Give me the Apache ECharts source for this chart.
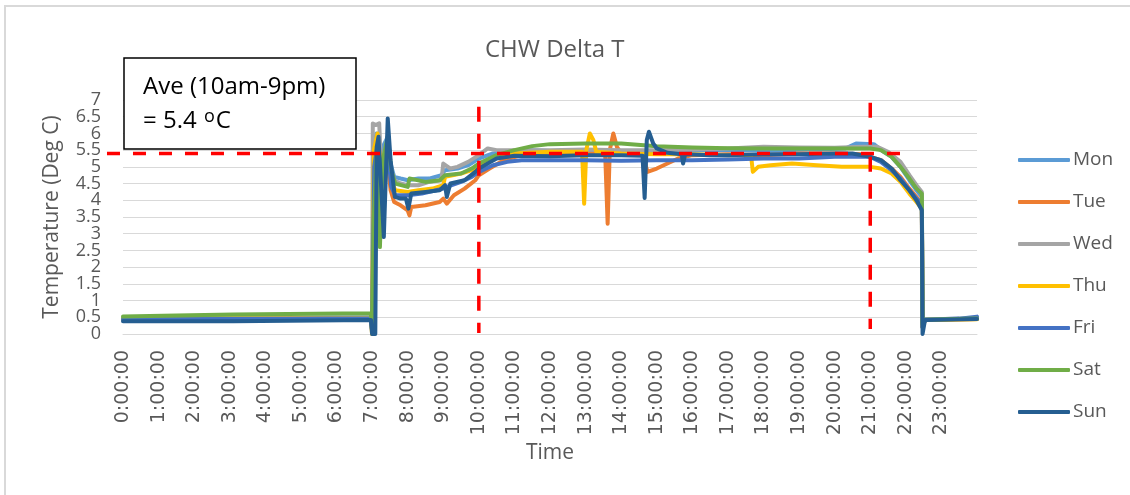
<!DOCTYPE html>
<html>
<head>
<meta charset="utf-8">
<title>CHW Delta T</title>
<script src="https://cdn.jsdelivr.net/npm/echarts@6/dist/echarts.min.js"></script>
<style>
	html, body { margin: 0; padding: 0; background: #fff; }
	#main { width: 1130px; height: 495px; }
</style>
</head>
<body>
<div id="main"></div>
<script>
// day names and Excel default colours
var days = ['Mon', 'Tue', 'Wed', 'Thu', 'Fri', 'Sat', 'Sun'];
var colors = ['#5B9BD5', '#ED7D31', '#A5A5A5', '#FFC000', '#4472C4', '#70AD47', '#255E91'];

// [hour of day, delta T in deg C]
var mon = [[0,0.46],[3.1,0.47],[6.96,0.5],[7.0,0.1],[7.04,5.4],[7.12,6.0],[7.22,4.6],[7.3,5.6],[7.44,5.9],[7.52,5.1],[7.62,4.7],[7.8,4.65],[8.0,4.6],[8.3,4.65],[8.6,4.65],[8.95,4.75],[9.05,4.9],[9.4,4.95],[9.7,5.05],[10.0,5.25],[10.4,5.4],[10.8,5.45],[11.5,5.5],[12.5,5.45],[13.5,5.45],[14.5,5.45],[15.5,5.48],[16.5,5.5],[17.5,5.5],[18.5,5.5],[19.5,5.52],[20.3,5.55],[20.6,5.7],[21.1,5.68],[21.3,5.5],[21.6,5.3],[21.85,5.0],[22.1,4.6],[22.3,4.3],[22.45,4.1],[22.47,0.2],[22.54,0.43],[24,0.46]];
var tue = [[0,0.45],[3.1,0.46],[6.96,0.48],[7.0,0.2],[7.05,5.0],[7.12,5.5],[7.22,4.1],[7.3,4.9],[7.42,5.4],[7.52,4.3],[7.62,3.95],[7.8,3.85],[8.0,3.7],[8.05,3.55],[8.1,3.8],[8.5,3.85],[8.9,3.95],[9.0,4.05],[9.1,3.9],[9.3,4.15],[9.6,4.35],[9.9,4.6],[10.0,4.75],[10.3,4.95],[10.7,5.2],[11.2,5.35],[12.0,5.4],[13.0,5.4],[13.55,5.4],[13.62,3.3],[13.68,5.5],[13.78,6.0],[13.88,5.6],[14.0,5.4],[14.6,5.38],[14.74,4.85],[15.0,4.95],[15.3,5.1],[15.6,5.25],[16.0,5.35],[17.0,5.38],[18.0,5.35],[19.0,5.4],[20.0,5.4],[20.8,5.38],[21.0,5.3],[21.3,5.2],[21.6,4.95],[21.85,4.7],[22.1,4.35],[22.3,4.1],[22.45,3.9],[22.47,0.2],[22.54,0.42],[24,0.45]];
var wed = [[0,0.46],[3.1,0.47],[6.96,0.5],[7.0,0.2],[7.02,6.3],[7.1,6.25],[7.2,6.3],[7.25,5.1],[7.32,5.3],[7.42,5.7],[7.52,5.0],[7.62,4.6],[7.8,4.5],[8.0,4.45],[8.3,4.45],[8.6,4.55],[8.95,4.6],[9.0,5.1],[9.2,4.95],[9.4,5.0],[9.7,5.15],[10.0,5.35],[10.25,5.55],[10.5,5.5],[11.0,5.5],[12.0,5.5],[13.0,5.52],[14.0,5.5],[15.0,5.5],[16.0,5.52],[17.0,5.55],[18.0,5.6],[19.0,5.58],[20.0,5.57],[20.8,5.6],[21.2,5.6],[21.5,5.45],[21.85,5.15],[22.1,4.75],[22.3,4.45],[22.45,4.25],[22.47,0.3],[22.54,0.44],[24,0.46]];
var thu = [[0,0.45],[3.1,0.46],[6.96,0.48],[7.0,0.0],[7.05,5.5],[7.15,6.0],[7.25,5.0],[7.35,5.3],[7.44,5.6],[7.54,4.6],[7.65,4.3],[8.0,4.25],[8.3,4.3],[8.7,4.35],[9.0,4.45],[9.05,4.7],[9.5,4.8],[9.8,4.9],[10.0,5.0],[10.5,5.3],[11.0,5.4],[12.0,5.45],[12.9,5.45],[12.96,3.9],[13.02,5.5],[13.12,6.0],[13.22,5.8],[13.3,5.45],[14.0,5.4],[15.0,5.38],[16.0,5.38],[17.0,5.35],[17.65,5.35],[17.7,4.85],[17.85,5.0],[18.2,5.05],[18.8,5.1],[19.5,5.05],[20.2,5.0],[20.8,5.0],[21.0,5.0],[21.3,4.95],[21.6,4.8],[21.85,4.55],[22.1,4.2],[22.3,3.95],[22.45,3.75],[22.47,0.2],[22.54,0.42],[24,0.44]];
var fri = [[0,0.44],[3.1,0.45],[6.96,0.47],[7.0,0.1],[7.06,5.0],[7.14,5.6],[7.24,4.3],[7.33,5.0],[7.44,5.5],[7.54,4.4],[7.65,4.15],[8.0,4.15],[8.4,4.2],[8.8,4.3],[9.0,4.35],[9.1,4.4],[9.5,4.55],[9.8,4.7],[10.0,4.85],[10.4,5.05],[10.8,5.15],[11.2,5.2],[12.0,5.2],[13.0,5.2],[14.0,5.18],[15.0,5.2],[16.0,5.2],[17.0,5.22],[18.0,5.25],[19.0,5.25],[20.0,5.3],[20.8,5.3],[21.0,5.3],[21.3,5.15],[21.6,4.9],[21.85,4.65],[22.1,4.3],[22.3,4.05],[22.45,3.85],[22.47,0.2],[22.54,0.43],[23.5,0.46],[24,0.52]];
var sat = [[0,0.52],[1.5,0.55],[3.1,0.58],[3.15,0.6],[6.96,0.62],[7.0,0.3],[7.05,3.5],[7.13,5.5],[7.22,2.6],[7.3,5.2],[7.44,5.9],[7.54,4.9],[7.65,4.5],[8.0,4.4],[8.05,4.65],[8.5,4.55],[8.9,4.6],[9.05,4.75],[9.5,4.8],[9.8,4.95],[10.0,5.1],[10.5,5.35],[11.0,5.5],[11.5,5.62],[12.0,5.68],[13.0,5.7],[14.0,5.7],[15.0,5.62],[16.0,5.58],[17.0,5.56],[18.0,5.55],[19.0,5.55],[20.0,5.55],[21.0,5.55],[21.3,5.5],[21.6,5.3],[21.85,5.0],[22.1,4.65],[22.3,4.35],[22.45,4.2],[22.47,0.3],[22.54,0.43],[24,0.46]];
var sun = [[0,0.38],[3.1,0.38],[3.15,0.42],[6.97,0.42],[7.0,0.0],[7.09,0.0],[7.13,5.6],[7.18,5.9],[7.25,4.5],[7.33,2.9],[7.44,6.45],[7.52,5.2],[7.64,4.1],[7.8,4.05],[7.95,4.05],[8.02,3.75],[8.1,4.2],[8.5,4.25],[8.9,4.3],[9.05,4.45],[9.1,4.1],[9.2,4.5],[9.6,4.6],[9.9,4.85],[10.0,4.95],[10.5,5.25],[11.0,5.33],[12.0,5.32],[13.0,5.35],[14.0,5.35],[14.6,5.33],[14.66,4.07],[14.72,5.8],[14.78,6.05],[14.9,5.7],[15.0,5.55],[15.3,5.42],[15.7,5.38],[15.74,5.1],[15.8,5.38],[16.5,5.35],[17.0,5.35],[18.0,5.38],[19.0,5.38],[20.0,5.4],[20.5,5.4],[21.0,5.3],[21.3,5.2],[21.6,4.95],[21.85,4.6],[22.1,4.3],[22.3,4.0],[22.45,3.7],[22.47,0.0],[22.54,0.42],[24,0.45]];

// annotation: average over the 10am-9pm window
var aveValue = 5.4;
var windowStart = 10;
var windowEnd = 21;

var seriesData = [mon, tue, wed, thu, fri, sat, sun];
var gray = '#595959';
var font = '"Open Sans", "Liberation Sans", sans-serif';

var chart = echarts.init(document.getElementById('main'), null, { renderer: 'canvas' });

var series = [];
for (var i = 0; i < days.length; i++) {
	series.push({
		name: days[i],
		type: 'line',
		yAxisIndex: 0,
		data: seriesData[i],
		showSymbol: false,
		animation: false,
		lineStyle: { color: colors[i], width: 4, cap: 'round', join: 'round' },
		itemStyle: { color: colors[i] }
	});
}

var yLabelStyle = { margin: 22, fontFamily: font, fontSize: 18, color: gray };

chart.setOption({
	animation: false,
	backgroundColor: '#fff',
	title: {
		text: 'CHW Delta T',
		left: 480,
		top: 33,
		textStyle: { fontFamily: font, fontSize: 24, fontWeight: 'normal', color: gray }
	},
	legend: {
		data: days,
		orient: 'vertical',
		left: 1013,
		top: 145,
		icon: 'roundRect',
		itemWidth: 52,
		itemHeight: 4,
		itemGap: 22,
		textStyle: { fontFamily: font, fontSize: 19, color: gray, lineHeight: 20, padding: [0, 0, 0, -2] }
	},
	grid: { left: 123, right: 153, top: 100, bottom: 161, containLabel: false },
	xAxis: {
		type: 'value',
		min: 0,
		max: 24,
		interval: 1,
		name: 'Time',
		nameLocation: 'middle',
		nameGap: 109,
		nameTextStyle: { fontFamily: font, fontSize: 21, color: gray },
		axisLine: { show: true, lineStyle: { color: '#d9d9d9', width: 1 } },
		axisTick: { show: false },
		splitLine: { show: false },
		axisLabel: {
			rotate: 90,
			margin: 16,
			fontFamily: '"DejaVu Sans", sans-serif',
			fontSize: 19,
			lineHeight: 14,
			color: gray,
			showMaxLabel: false,
			formatter: function (v) { return v < 24 ? v + ':00:00' : ''; }
		}
	},
	yAxis: [
		{
			// whole numbers plus the gridlines
			type: 'value',
			min: 0,
			max: 7,
			interval: 0.5,
			name: 'Temperature (Deg C)',
			nameLocation: 'middle',
			nameGap: 60,
			nameTextStyle: { fontFamily: font, fontSize: 21, color: gray },
			axisLine: { show: false },
			axisTick: { show: false },
			splitLine: { show: true, lineStyle: { color: '#d9d9d9', width: 1 } },
			axisLabel: Object.assign({}, yLabelStyle, {
				showMinLabel: true,
				showMaxLabel: true,
				formatter: function (v) { return v % 1 === 0 ? String(v) : ''; }
			})
		},
		{
			// the .5 labels, same scale and place, so they can overlap like the original
			type: 'value',
			position: 'left',
			offset: 0,
			min: 0,
			max: 7,
			interval: 0.5,
			axisLine: { show: false },
			axisTick: { show: false },
			splitLine: { show: false },
			axisLabel: Object.assign({}, yLabelStyle, {
				showMinLabel: false,
				showMaxLabel: false,
				formatter: function (v) { return v % 1 !== 0 ? String(v) : ''; }
			})
		}
	],
	series: series
});

// guide lines and annotation box, placed through the axes
function px(x, y) {
	return chart.convertToPixel({ gridIndex: 0 }, [x, y]);
}
var red = '#FF0000';
var hA = px(-0.45, aveValue), hB = px(22.17, aveValue);
var v1a = px(windowStart, 6.8), v1b = px(windowStart, 0.03);
var v2a = px(windowEnd, 6.92), v2b = px(windowEnd, 0.15);

chart.setOption({
	graphic: [
		{
			type: 'rect', z: 1, silent: true,
			shape: { x: 5, y: 6, width: 1140, height: 500 },
			style: { fill: 'none', stroke: '#d9d9d9', lineWidth: 2 }
		},
		{
			type: 'line', z: 100, silent: true,
			shape: { x1: hA[0], y1: hA[1], x2: hB[0], y2: hB[1] },
			style: { stroke: red, lineWidth: 3.5, lineDash: [13, 13] }
		},
		{
			type: 'line', z: 100, silent: true,
			shape: { x1: v1a[0], y1: v1a[1], x2: v1b[0], y2: v1b[1] },
			style: { stroke: red, lineWidth: 3.5, lineDash: [15, 12] }
		},
		{
			type: 'line', z: 100, silent: true,
			shape: { x1: v2a[0], y1: v2a[1], x2: v2b[0], y2: v2b[1] },
			style: { stroke: red, lineWidth: 3.5, lineDash: [15, 12] }
		},
		{
			type: 'rect', z: 110, silent: true,
			shape: { x: 124, y: 58, width: 232, height: 91 },
			style: { fill: '#fff', stroke: '#000', lineWidth: 1.5 }
		},
		{
			type: 'text', z: 111, silent: true,
			left: 143, top: 75,
			style: {
				text: 'Ave (10am-9pm)',
				fill: '#000',
				font: '24px ' + font
			}
		},
		{
			type: 'text', z: 111, silent: true,
			left: 143, top: 108,
			style: {
				text: '= 5.4 {sup|o}C',
				fill: '#000',
				font: '24px ' + font,
				rich: {
					sup: { fontSize: 18, fontFamily: font, fill: '#000', verticalAlign: 'top', padding: [0, 1, 9, 1] }
				}
			}
		}
	]
});
</script>
</body>
</html>
